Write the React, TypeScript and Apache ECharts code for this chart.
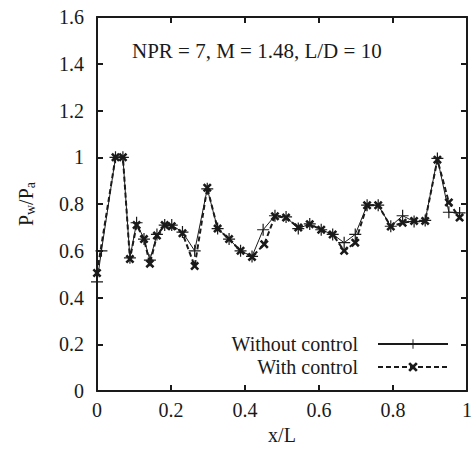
import React, { useEffect, useRef } from "react";
import * as echarts from "echarts";

const xWithout = [0, 0.012, 0.05, 0.07, 0.089, 0.107, 0.127, 0.143, 0.162, 0.183, 0.202, 0.231, 0.264, 0.298, 0.326, 0.357, 0.388, 0.419, 0.449, 0.481, 0.511, 0.544, 0.575, 0.606, 0.637, 0.668, 0.698, 0.73, 0.76, 0.794, 0.826, 0.857, 0.887, 0.92, 0.951, 0.98];
const yWithout = [0.467, 0.6, 1.0, 1.0, 0.57, 0.72, 0.65, 0.56, 0.67, 0.71, 0.71, 0.68, 0.6, 0.865, 0.695, 0.65, 0.6, 0.576, 0.69, 0.75, 0.745, 0.695, 0.715, 0.69, 0.67, 0.635, 0.67, 0.795, 0.795, 0.705, 0.75, 0.725, 0.73, 0.995, 0.765, 0.762];

const xWith = [0, 0.05, 0.07, 0.089, 0.107, 0.127, 0.143, 0.162, 0.183, 0.202, 0.231, 0.264, 0.298, 0.326, 0.357, 0.388, 0.419, 0.452, 0.481, 0.511, 0.544, 0.575, 0.606, 0.637, 0.668, 0.698, 0.73, 0.76, 0.794, 0.826, 0.857, 0.887, 0.92, 0.951, 0.98];
const yWith = [0.505, 1.0, 1.0, 0.565, 0.71, 0.65, 0.545, 0.665, 0.71, 0.705, 0.675, 0.535, 0.87, 0.695, 0.65, 0.6, 0.574, 0.628, 0.748, 0.742, 0.7, 0.714, 0.69, 0.67, 0.6, 0.635, 0.795, 0.795, 0.704, 0.72, 0.728, 0.728, 0.99, 0.807, 0.742];

const annotation = "NPR = 7, M = 1.48, L/D = 10";
const seriesNames = ["Without control", "With control"];

const FONT = "Liberation Serif";
const INK = "#1a1a1a";

const plusSymbol = "path://M4.5,0h1v4.5h4.5v1h-4.5v4.5h-1v-4.5h-4.5v-1h4.5z";
const crossSymbol = "path://M0,2L2,0L5,3L8,0L10,2L7,5L10,8L8,10L5,7L2,10L0,8L3,5Z";

export default function App() {
  const ref = useRef<HTMLDivElement>(null);
  useEffect(() => {
    document.body.style.margin = "0";
    if (!ref.current) return;
    const chart = echarts.init(ref.current, null, { renderer: "svg" });
    const axisCommon = {
      type: "value" as const,
      axisLine: { show: true, onZero: false, lineStyle: { color: INK, width: 2 } },
      axisTick: { show: true, inside: true, length: 6, lineStyle: { color: INK, width: 2 } },
      splitLine: { show: false },
    };
    chart.setOption({
      animation: false,
      title: {
        text: annotation,
        left: 127,
        top: 35,
        textStyle: { fontFamily: FONT, fontWeight: "normal", fontSize: 21, color: INK },
      },
      legend: {
        orient: "vertical",
        align: "right",
        right: 21,
        top: 329,
        itemWidth: 70,
        itemHeight: 12,
        itemGap: 3,
        textStyle: { fontFamily: FONT, fontSize: 20, color: INK, padding: [0, 15, 0, 0] },
        data: seriesNames,
      },
      grid: { left: 97, right: 2, top: 17, bottom: 58 },
      xAxis: [
        {
          ...axisCommon,
          min: 0,
          max: 1,
          interval: 0.2,
          position: "bottom",
          name: "x/L",
          nameLocation: "middle",
          nameGap: 33,
          nameTextStyle: { fontFamily: FONT, fontSize: 20, color: INK },
          axisLabel: { fontFamily: FONT, fontSize: 20, color: INK, margin: 9 },
        },
        {
          ...axisCommon,
          min: 0,
          max: 1,
          interval: 0.2,
          position: "top",
          axisLabel: { show: false },
        },
      ],
      yAxis: [
        {
          ...axisCommon,
          min: 0,
          max: 1.6,
          interval: 0.2,
          position: "left",
          name: "{a|P}{s|w}{a|/P}{s|a}",
          nameLocation: "middle",
          nameGap: 60,
          nameRotate: 90,
          nameTextStyle: {
            fontFamily: FONT,
            color: INK,
            rich: {
              a: { fontFamily: FONT, fontSize: 20, color: INK },
              s: { fontFamily: FONT, fontSize: 14, color: INK, verticalAlign: "bottom", padding: [8, 0, 0, 0] },
            },
          },
          axisLabel: { fontFamily: FONT, fontSize: 20, color: INK, margin: 13 },
        },
        {
          ...axisCommon,
          min: 0,
          max: 1.6,
          interval: 0.2,
          position: "right",
          axisLabel: { show: false },
        },
      ],
      series: [
        {
          name: seriesNames[0],
          type: "line",
          xAxisIndex: 0,
          yAxisIndex: 0,
          data: xWithout.map((x, i) => [x, yWithout[i]]),
          symbol: plusSymbol,
          symbolSize: 12,
          showAllSymbol: true,
          lineStyle: { color: INK, width: 1, type: "solid" },
          itemStyle: { color: INK },
          z: 2,
        },
        {
          name: seriesNames[1],
          type: "line",
          xAxisIndex: 0,
          yAxisIndex: 0,
          data: xWith.map((x, i) => [x, yWith[i]]),
          symbol: crossSymbol,
          symbolSize: 9,
          showAllSymbol: true,
          lineStyle: { color: INK, width: 2, type: [5, 3] },
          itemStyle: { color: INK },
          z: 3,
        },
      ],
    });
    return () => chart.dispose();
  }, []);
  return <div ref={ref} style={{ width: 475, height: 450 }} />;
}
